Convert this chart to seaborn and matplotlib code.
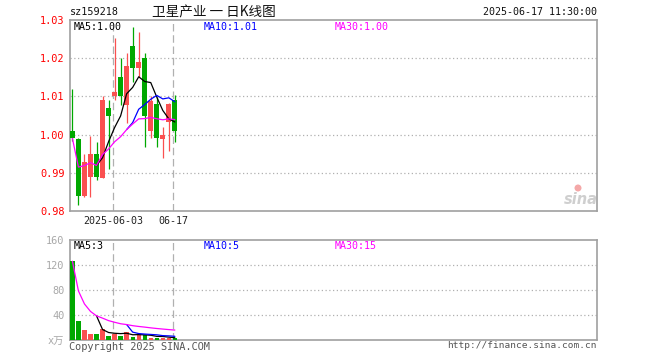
import numpy as np
import pandas as pd
import matplotlib
matplotlib.use("Agg")
import matplotlib.pyplot as plt
import matplotlib.transforms as mtransforms
from matplotlib.patches import Ellipse
import seaborn as sns

# ---------------- data ----------------
dates = ["2025-05-22", "2025-05-23", "2025-05-26", "2025-05-27", "2025-05-28",
         "2025-05-29", "2025-05-30", "2025-06-03", "2025-06-04", "2025-06-05",
         "2025-06-06", "2025-06-09", "2025-06-10", "2025-06-11", "2025-06-12",
         "2025-06-13", "2025-06-16", "2025-06-17"]
opens = [1.0009, 0.9989, 0.9840, 0.9889, 0.9949, 0.9887, 1.0070, 1.0102, 1.0152,
         1.0078, 1.0232, 1.0174, 1.0200, 1.0009, 1.0079, 0.9989, 1.0032, 1.0091]
highs = [1.0119, 0.9990, 0.9950, 0.9996, 0.9980, 1.0100, 1.0091, 1.0252, 1.0200,
         1.0213, 1.0282, 1.0269, 1.0213, 1.0101, 1.0099, 1.0021, 1.0083, 1.0104]
lows = [0.9984, 0.9816, 0.9837, 0.9837, 0.9880, 0.9887, 0.9910, 1.0091, 1.0078,
        1.0030, 1.0138, 1.0150, 0.9968, 0.9991, 0.9968, 0.9938, 0.9958, 0.9980]
closes = [0.9990, 0.9840, 0.9927, 0.9949, 0.9890, 1.0091, 1.0050, 1.0112, 1.0102,
          1.0180, 1.0174, 1.0189, 1.0050, 1.0088, 0.9990, 0.9999, 1.0079, 1.0009]
volumes = [126, 31, 16, 10, 10, 17, 7, 10, 7, 13, 5, 8, 8, 4, 4, 4, 3, 3]

price_ticks = [0.98, 0.99, 1.00, 1.01, 1.02, 1.03]
vol_ticks = [0, 40, 80, 120, 160]
vol_tick_labels = ["x万", "40", "80", "120", "160"]
date_marks = ["2025-06-03", "2025-06-17"]
date_mark_labels = ["2025-06-03", "06-17"]

code = "sz159218"
title = "卫星产业 一 日K线图"
stamp = "2025-06-17 11:30:00"
price_ma_labels = ["MA5:1.00", "MA10:1.01", "MA30:1.00"]
vol_ma_labels = ["MA5:3", "MA10:5", "MA30:15"]

# ---------------- styling ----------------
sns.set_style("white")
plt.rcParams["font.family"] = ["DejaVu Sans Mono", "Noto Sans CJK SC"]
MONO = ["DejaVu Sans Mono", "Noto Sans CJK SC"]
CJK = ["Noto Sans CJK SC", "DejaVu Sans"]

RED = "#fa5050"
GREEN = "#00a800"
FRAME = "#a0a0a0"
GRID = "#b0b0b0"
MA_COLORS = ["black", "#0000ff", "#ff00ff"]

df = pd.DataFrame({"date": dates, "open": opens, "high": highs, "low": lows,
                   "close": closes, "volume": volumes})
df["x"] = np.arange(len(df))
df["ma5"] = df["close"].rolling(5).mean()
df["ma10"] = df["close"].rolling(10).mean()
df["ma30"] = df["close"].expanding().mean()
df["vma5"] = df["volume"].rolling(5).mean()
df["vma10"] = df["volume"].rolling(10).mean()
df["vma30"] = df["volume"].expanding().mean()
up = df["close"] >= df["open"]
cols = np.where(up, RED, GREEN)

W, H = 660, 360
fig = plt.figure(figsize=(W / 100, H / 100), dpi=100)
ax1 = fig.add_axes([70 / W, 1 - 211 / H, 527 / W, 191 / H])
ax2 = fig.add_axes([70 / W, 1 - 340 / H, 527 / W, 100 / H])

xlim = (-0.4, 87.05)

# ---- candles ----
ax1.vlines(df["x"], df["low"], df["high"], colors=cols, linewidth=0.9, zorder=3)
body_lo = np.minimum(df["open"], df["close"])
body_h = np.maximum(np.abs(df["close"] - df["open"]), 0.00015)
ax1.bar(df["x"], body_h, bottom=body_lo, width=0.8, color=cols, linewidth=0, zorder=4)

for col, c in zip(["ma5", "ma10", "ma30"], MA_COLORS):
    d = df.dropna(subset=[col])
    sns.lineplot(data=d, x="x", y=col, color=c, linewidth=0.9, ax=ax1, zorder=5)

# ---- volume ----
ax2.bar(df["x"], df["volume"], width=0.72, color=cols, linewidth=0, zorder=3)
for col, c in zip(["vma5", "vma10", "vma30"], MA_COLORS):
    d = df.dropna(subset=[col])
    sns.lineplot(data=d, x="x", y=col, color=c, linewidth=0.9, ax=ax2, zorder=5)

# ---- axes styling ----
for ax in (ax1, ax2):
    ax.set_xlim(*xlim)
    ax.set_xticks([])
    ax.set_xlabel("")
    ax.set_ylabel("")
    for s in ax.spines.values():
        s.set_color(FRAME)
        s.set_linewidth(1.2)
        s.set_visible(True)
    ax.grid(False)
    for dm in date_marks:
        xi = dates.index(dm) - 0.25
        ax.axvline(xi, color=GRID, linewidth=0.9, linestyle=(0, (6, 3)), zorder=1)

ax1.set_ylim(0.98, 1.03)
ax1.set_yticks(price_ticks)
ax1.set_yticklabels([f"{v:.2f}" for v in price_ticks], family=MONO)
ax1.tick_params(axis="y", length=0, pad=4, labelsize=7.4, labelcolor="red")
for v in price_ticks[1:-1]:
    ax1.axhline(v, color=GRID, linewidth=0.9, linestyle=(0, (1, 2)), zorder=1)

ax2.set_ylim(0, 160)
ax2.set_yticks(vol_ticks)
ax2.set_yticklabels(vol_tick_labels, family=MONO)
ax2.tick_params(axis="y", length=0, pad=4, labelsize=7.4, labelcolor="#a8a8a8")
for v in vol_ticks[1:-1]:
    ax2.axhline(v, color=GRID, linewidth=0.9, linestyle=(0, (1, 2)), zorder=1)

# date labels under the price panel
trans = mtransforms.blended_transform_factory(ax1.transData, fig.transFigure)
for dm, lab in zip(date_marks, date_mark_labels):
    ax1.text(dates.index(dm) - 0.25, 1 - 221 / H, lab, transform=trans,
             ha="center", va="center", fontsize=7.2, family=MONO, color="#222222")

# MA labels inside panels
for lab, c, px in zip(price_ma_labels, MA_COLORS, [74, 204, 335]):
    fig.text(px / W, 1 - 27 / H, lab, color=c, fontsize=7.2, family=MONO,
             ha="left", va="center")
for lab, c, px in zip(vol_ma_labels, MA_COLORS, [74, 204, 335]):
    fig.text(px / W, 1 - 246 / H, lab, color=c, fontsize=7.2, family=MONO,
             ha="left", va="center")

# header
fig.text(70 / W, 1 - 12 / H, code, fontsize=7.3, family=MONO, ha="left", va="center",
         color="#111111")
fig.text(213.5 / W, 1 - 12 / H, title, fontsize=9.8, family=CJK, ha="center", va="center",
         color="#111111")
fig.text(597 / W, 1 - 12 / H, stamp, fontsize=7.2, family=MONO, ha="right", va="center",
         color="#111111")

# footer
fig.text(69 / W, 1 - 347 / H, "Copyright 2025 SINA.COM", fontsize=7.4, family=MONO,
         ha="left", va="center", color="#555555")
fig.text(597 / W, 1 - 346 / H, "http://finance.sina.com.cn", fontsize=6.8, family=MONO,
         ha="right", va="center", color="#555555")

# watermark
fig.text(581 / W, 1 - 200 / H, "sina", fontsize=10.5, family="DejaVu Sans",
         style="italic", weight="bold", ha="center", va="center", color="#cfcfcf")
fig.add_artist(Ellipse((578 / W, 1 - 188 / H), 7 / W, 7 / H, transform=fig.transFigure,
                       facecolor="#f4a8a8", edgecolor="none"))

fig.savefig("out.png", dpi=100)
